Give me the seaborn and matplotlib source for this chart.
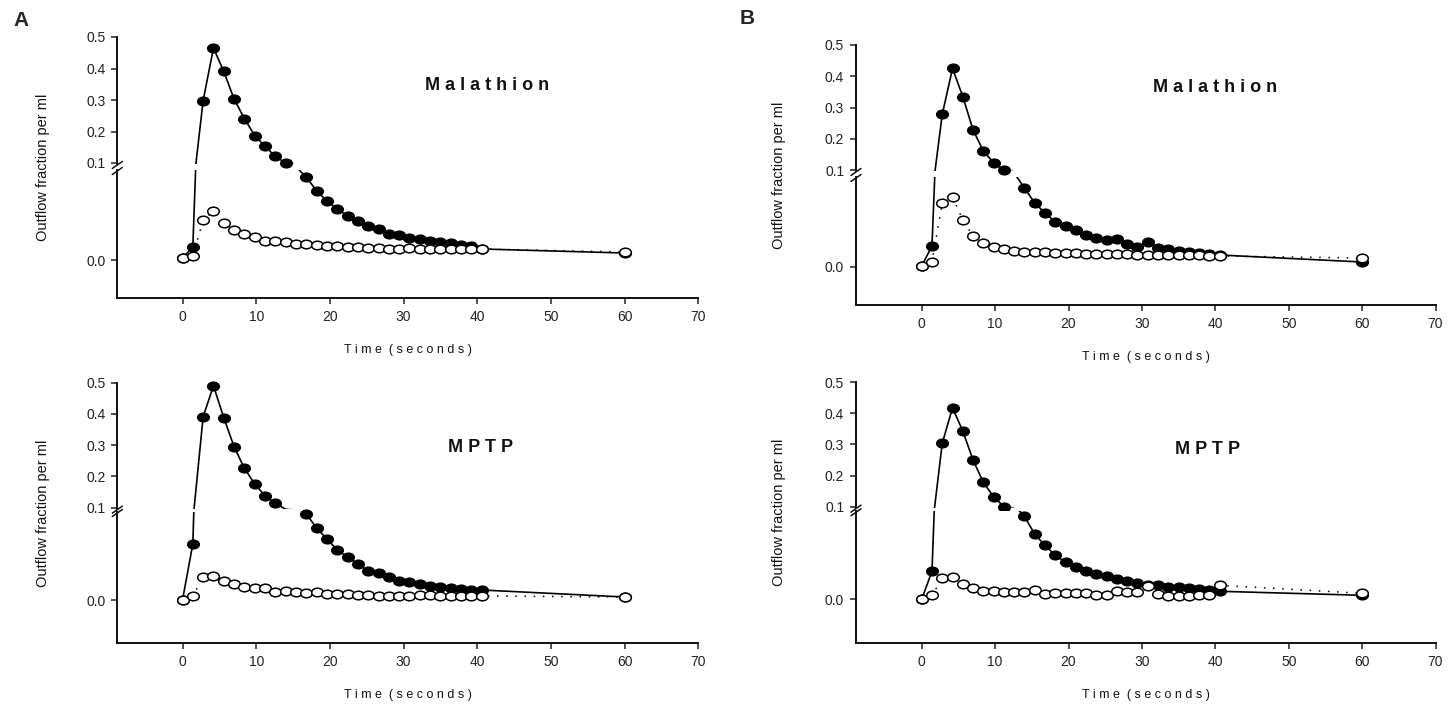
import numpy as np
import pandas as pd
import matplotlib
matplotlib.use("Agg")
import matplotlib.pyplot as plt
import seaborn as sns
from matplotlib.path import Path
from matplotlib.transforms import Affine2D
from matplotlib.lines import Line2D

# sampling times (seconds)
TIME = [0, 1.4, 2.8, 4.2, 5.6, 7.0, 8.4, 9.8, 11.2, 12.6, 14.0, 15.4, 16.8, 18.2, 19.6,
        21.0, 22.4, 23.8, 25.2, 26.6, 28.0, 29.4, 30.8, 32.2, 33.6, 35.0, 36.4, 37.8,
        39.2, 40.6, 60]

# panel A, malathion
A_MAL_FILLED = [0.002, 0.013, 0.298, 0.465, 0.391, 0.303, 0.241, 0.187, 0.153, 0.121, 0.100,
                0.093, 0.083, 0.069, 0.059, 0.051, 0.044, 0.039, 0.034, 0.031, 0.026, 0.025,
                0.022, 0.021, 0.019, 0.018, 0.017, 0.015, 0.014, 0.011, 0.007]
A_MAL_OPEN = [0.002, 0.004, 0.040, 0.049, 0.037, 0.030, 0.026, 0.023, 0.019, 0.019, 0.018,
              0.016, 0.016, 0.015, 0.014, 0.014, 0.013, 0.013, 0.012, 0.012, 0.011, 0.011,
              0.012, 0.011, 0.011, 0.011, 0.011, 0.011, 0.011, 0.011, 0.008]
# panel A, MPTP
A_MPTP_FILLED = [0.000, 0.056, 0.391, 0.490, 0.388, 0.295, 0.226, 0.176, 0.138, 0.114, 0.095,
                 0.092, 0.086, 0.072, 0.061, 0.050, 0.043, 0.036, 0.029, 0.027, 0.023, 0.019,
                 0.018, 0.016, 0.014, 0.013, 0.012, 0.011, 0.010, 0.010, 0.003]
A_MPTP_OPEN = [0.000, 0.004, 0.023, 0.024, 0.019, 0.016, 0.013, 0.012, 0.012, 0.008, 0.009,
               0.008, 0.007, 0.008, 0.006, 0.006, 0.006, 0.005, 0.005, 0.004, 0.004, 0.004,
               0.004, 0.005, 0.005, 0.004, 0.004, 0.004, 0.004, 0.004, 0.003]
# panel B, malathion
B_MAL_FILLED = [0.001, 0.021, 0.278, 0.425, 0.335, 0.228, 0.161, 0.123, 0.100, 0.094, 0.079,
                0.064, 0.054, 0.045, 0.041, 0.037, 0.032, 0.029, 0.027, 0.028, 0.023, 0.020,
                0.025, 0.019, 0.018, 0.016, 0.015, 0.014, 0.013, 0.012, 0.005]
B_MAL_OPEN = [0.001, 0.005, 0.064, 0.070, 0.047, 0.031, 0.024, 0.020, 0.018, 0.016, 0.015,
              0.015, 0.015, 0.014, 0.014, 0.014, 0.013, 0.013, 0.013, 0.013, 0.013, 0.012,
              0.012, 0.012, 0.012, 0.012, 0.012, 0.012, 0.011, 0.011, 0.009]
# panel B, MPTP
B_MPTP_FILLED = [0.000, 0.028, 0.304, 0.418, 0.343, 0.250, 0.178, 0.132, 0.100, 0.094, 0.083,
                 0.065, 0.054, 0.044, 0.037, 0.032, 0.028, 0.025, 0.023, 0.020, 0.018, 0.016,
                 0.014, 0.014, 0.012, 0.012, 0.011, 0.010, 0.009, 0.008, 0.004]
B_MPTP_OPEN = [0.000, 0.004, 0.021, 0.022, 0.015, 0.011, 0.008, 0.008, 0.007, 0.007, 0.007,
               0.009, 0.005, 0.006, 0.006, 0.006, 0.006, 0.004, 0.004, 0.008, 0.007, 0.007,
               0.013, 0.005, 0.003, 0.003, 0.003, 0.004, 0.004, 0.014, 0.006]

UPPER_TICKS = [0.1, 0.2, 0.3, 0.4, 0.5]
X_TICKS = [0, 10, 20, 30, 40, 50, 60, 70]
UPPER_BOTTOM = 0.097
LOWER_PPU = 1000.0  # pixels per unit on the expanded lower segment

W, H = 1452, 704

sns.set_theme(style="ticks")
plt.rcParams["font.family"] = ["Liberation Sans", "DejaVu Sans"]

fig = plt.figure(figsize=(W / 100, H / 100), dpi=100)
fig.patch.set_facecolor("white")

ellipse = Path.unit_circle().transformed(Affine2D().scale(1.35, 1.0))


def fig_rect(left, top, right, bottom):
    return [left / W, 1 - bottom / H, (right - left) / W, (bottom - top) / H]


def style_axis(ax):
    ax.set_facecolor("white")
    ax.tick_params(axis="both", direction="out", length=4.5, width=1.1,
                   labelsize=10, colors="#222222", pad=4)
    for s in ax.spines.values():
        s.set_linewidth(1.4)
        s.set_color("#111111")
    ax.set_xlabel("")
    ax.set_ylabel("")


def draw_series(ax, df, lo, hi, filled):
    if filled:
        sns.lineplot(data=df, x="time", y="value", ax=ax, color="black", lw=1.2,
                     sort=False, estimator=None, zorder=2)
    else:
        sns.lineplot(data=df, x="time", y="value", ax=ax, color="black", lw=1.1,
                     linestyle=(0, (1, 5)), sort=False, estimator=None, zorder=3)
    vis = df[(df["value"] >= lo) & (df["value"] <= hi)]
    sns.scatterplot(data=vis, x="time", y="value", ax=ax, marker=ellipse, s=70,
                    color="black" if filled else "white", edgecolor="black",
                    linewidth=1.1, clip_on=False, zorder=4 if filled else 5)


def draw_panel(g, filled_vals, open_vals, title, title_xy):
    left, right, x0 = g["left"], g["right"], g["x0"]
    xmin = -(x0 - left) / (right - x0) * 70
    ppu_up = (g["y01"] - g["y05"]) / 0.4
    up_bottom_px = g["y01"] + (0.1 - UPPER_BOTTOM) * ppu_up
    low_top_px = g["y0"] - g["ltop"] * LOWER_PPU
    low_min = -(g["yaxis"] - g["y0"]) / LOWER_PPU

    ax_up = fig.add_axes(fig_rect(left, g["y05"], right, up_bottom_px))
    ax_lo = fig.add_axes(fig_rect(left, low_top_px, right, g["yaxis"]))

    df_f = pd.DataFrame({"time": TIME, "value": filled_vals})
    df_o = pd.DataFrame({"time": TIME, "value": open_vals})

    for ax, lo, hi in [(ax_up, UPPER_BOTTOM, 0.5), (ax_lo, low_min, g["ltop"])]:
        draw_series(ax, df_f, lo, hi, True)
        draw_series(ax, df_o, lo, hi, False)
        ax.set_xlim(xmin, 70)
        style_axis(ax)

    ax_up.set_ylim(UPPER_BOTTOM, 0.5)
    ax_up.set_yticks(UPPER_TICKS)
    ax_up.set_yticklabels([f"{v:.1f}" for v in UPPER_TICKS])
    ax_up.set_xticks([])
    for side in ["top", "right", "bottom"]:
        ax_up.spines[side].set_visible(False)

    ax_lo.set_ylim(low_min, g["ltop"])
    ax_lo.set_yticks([0.0])
    ax_lo.set_yticklabels(["0.0"])
    ax_lo.set_xticks(X_TICKS)
    ax_lo.set_xticklabels([str(t) for t in X_TICKS])
    for side in ["top", "right"]:
        ax_lo.spines[side].set_visible(False)

    # break marks on the y axis
    for yb in (up_bottom_px + 1.5, low_top_px + 1.5):
        fig.add_artist(Line2D([(left - 5) / W, (left + 5) / W],
                              [1 - (yb + 3) / H, 1 - (yb - 4) / H],
                              color="#111111", lw=1.1))

    mid_x = (left + right) / 2
    fig.text(mid_x / W, 1 - (g["yaxis"] + 52) / H, "T i m e  ( s e c o n d s )",
             ha="center", va="center", fontsize=9, color="#111111")
    fig.text(g["ylab_x"] / W, 1 - ((g["y05"] + g["yaxis"]) / 2) / H,
             "Outflow fraction per ml", rotation=90, ha="center", va="center",
             fontsize=10.5, color="#111111")
    fig.text(title_xy[0] / W, 1 - title_xy[1] / H, title, ha="left", va="center",
             fontsize=13, fontweight="bold", color="#111111")


geom_a_top = dict(left=117.3, right=698.4, x0=182.5, y05=37, y01=163, y0=260, yaxis=298,
                  ltop=0.09, ylab_x=43)
geom_a_bot = dict(left=117.3, right=698.4, x0=182.5, y05=382.7, y01=507.7, y0=600,
                  yaxis=643.3, ltop=0.088, ylab_x=43)
geom_b_top = dict(left=856, right=1435.5, x0=921.7, y05=45, y01=170, y0=267, yaxis=305,
                  ltop=0.09, ylab_x=779)
geom_b_bot = dict(left=856, right=1435.5, x0=921.7, y05=382.3, y01=506.7, y0=599.3,
                  yaxis=642.7, ltop=0.088, ylab_x=779)

draw_panel(geom_a_top, A_MAL_FILLED, A_MAL_OPEN, "M a l a t h i o n", (425, 86))
draw_panel(geom_a_bot, A_MPTP_FILLED, A_MPTP_OPEN, "M P T P", (448, 448))
draw_panel(geom_b_top, B_MAL_FILLED, B_MAL_OPEN, "M a l a t h i o n", (1153, 87))
draw_panel(geom_b_bot, B_MPTP_FILLED, B_MPTP_OPEN, "M P T P", (1175, 450))

fig.text(13 / W, 1 - 20 / H, "A", ha="left", va="center", fontsize=15, fontweight="bold")
fig.text(740 / W, 1 - 19 / H, "B", ha="left", va="center", fontsize=15, fontweight="bold")

fig.savefig("out.png", dpi=100, facecolor="white")
plt.close(fig)
